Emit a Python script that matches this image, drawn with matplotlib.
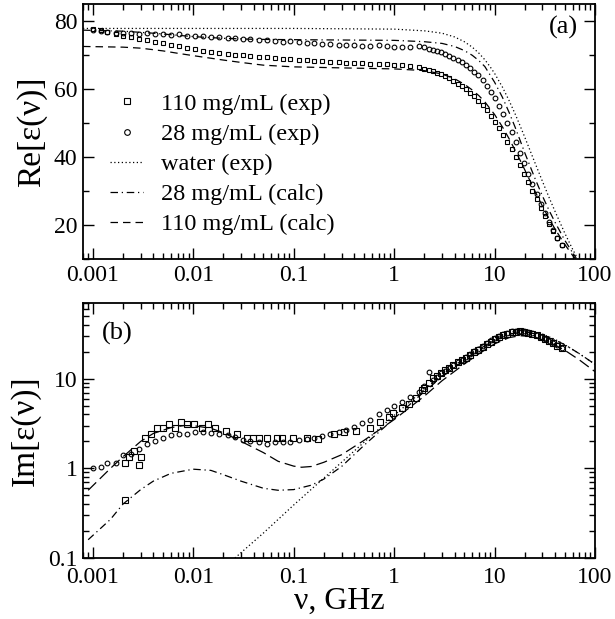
import numpy as np
import matplotlib
matplotlib.use("Agg")
import matplotlib.pyplot as plt
from matplotlib.ticker import LogLocator, MultipleLocator, FuncFormatter, NullFormatter

plt.rcParams.update({"font.family": ["Liberation Serif", "DejaVu Serif"],
                     "mathtext.fontset": "stix"})

# ---- experimental data (GHz) ----
# 28 mg/mL, low-frequency grid (Re and Im)
f28_lo = [0.0010, 0.0012, 0.0014, 0.0017, 0.0020, 0.0024, 0.0029, 0.0035, 0.0042, 0.0050,
          0.0060, 0.0072, 0.0087, 0.0105, 0.0126, 0.015, 0.018, 0.022, 0.026, 0.031,
          0.037, 0.045, 0.054, 0.065, 0.078, 0.093, 0.112, 0.135, 0.16, 0.19,
          0.23, 0.28, 0.33, 0.40, 0.48, 0.58, 0.70, 0.84, 1.0, 1.2, 1.45, 1.75]
re28_lo = [77.4, 77.0, 76.8, 76.6, 76.4, 76.5, 76.3, 76.6, 76.2, 76.3,
           76.0, 76.1, 75.7, 75.6, 75.5, 75.4, 75.2, 75.1, 75.0, 74.8,
           74.6, 74.5, 74.3, 74.2, 73.9, 74.0, 73.7, 73.5, 73.4, 73.3,
           73.1, 73.0, 72.9, 72.8, 72.6, 72.5, 72.9, 72.6, 72.4, 72.4, 72.3, 72.6]
im28_lo = [1.02, 1.03, 1.15, 1.15, 1.40, 1.45, 1.65, 1.85, 2.00, 2.20,
           2.35, 2.45, 2.45, 2.55, 2.55, 2.50, 2.40, 2.35, 2.25, 2.10,
           2.00, 1.95, 1.85, 1.95, 1.95, 1.95, 2.05, 2.15, 2.20, 2.30,
           2.45, 2.55, 2.70, 2.90, 3.20, 3.50, 4.00, 4.50, 5.00, 5.50, 6.30, 7.20]

# 110 mg/mL, low-frequency grid (Re)
f110_re_lo = f28_lo
re110_lo = [77.7, 77.2, 76.8, 76.2, 75.6, 75.2, 74.8, 74.3, 73.8, 73.4,
            72.9, 72.5, 72.1, 71.7, 71.3, 71.0, 70.6, 70.3, 70.1, 69.9,
            69.7, 69.5, 69.3, 69.1, 68.9, 68.7, 68.6, 68.4, 68.3, 68.1,
            68.0, 67.9, 67.7, 67.6, 67.5, 67.4, 67.3, 67.2, 67.0, 67.0, 66.8, 66.4]

# 110 mg/mL, low-frequency grid (Im)
f110_im_lo = [0.0021, 0.0021, 0.0023, 0.0026, 0.0029, 0.0030, 0.0033, 0.0038, 0.0044, 0.0050,
              0.0057, 0.0066, 0.0075, 0.0087, 0.0102, 0.0123, 0.014, 0.0165, 0.021, 0.027,
              0.034, 0.039, 0.045, 0.054, 0.068, 0.077, 0.099, 0.137, 0.176, 0.25,
              0.32, 0.42, 0.57, 0.72, 0.89, 0.98, 1.2, 1.4, 1.65, 1.9]
im110_lo = [1.14, 0.44, 1.33, 1.58, 1.10, 1.33, 2.20, 2.45, 2.85, 2.85,
            3.15, 2.85, 3.33, 3.15, 3.15, 2.85, 3.15, 2.85, 2.64, 2.45,
            2.20, 2.20, 2.20, 2.20, 2.20, 2.20, 2.20, 2.20, 2.15, 2.45,
            2.55, 2.60, 2.85, 3.26, 3.70, 4.20, 4.70, 5.20, 6.10, 7.40]

# high-frequency grid (both samples)
f_hi = [2.0, 2.2, 2.42, 2.66, 2.93, 3.22, 3.54, 3.9, 4.29, 4.72,
        5.19, 5.7, 6.27, 6.9, 7.6, 8.35, 9.2, 10.1, 11.1, 12.2,
        13.4, 14.8, 16.3, 17.9, 19.7, 21.7, 23.8, 26.2, 28.8, 31.7,
        34.9, 38.4, 42.2, 46.4]
re28_hi = [72.2, 71.8, 71.5, 71.2, 70.8, 70.3, 69.8, 69.2, 68.5, 67.8,
           67.0, 66.1, 65.1, 64.0, 62.6, 61.0, 59.2, 57.2, 55.0, 52.6,
           50.0, 47.2, 44.3, 41.3, 38.2, 35.1, 32.1, 29.1, 26.3, 23.6,
           21.0, 18.6, 16.3, 14.2]
re110_hi = [66.0, 65.6, 65.2, 64.8, 64.3, 63.8, 63.1, 62.4, 61.6, 60.8,
            59.9, 58.9, 57.8, 56.6, 55.2, 53.7, 52.1, 50.4, 48.6, 46.6,
            44.5, 42.3, 40.0, 37.6, 35.1, 32.6, 30.1, 27.6, 25.1, 22.7,
            20.4, 18.2, 16.1, 14.1]
im28_hi = [8.2, 11.8, 9.6, 10.5, 11.5, 12.3, 13.2, 14.2, 15.2, 16.3,
           17.4, 18.8, 20.2, 21.7, 23.3, 25.0, 26.8, 28.5, 30.0, 31.5,
           32.8, 33.8, 34.3, 34.4, 34.1, 33.3, 32.3, 31.0, 29.6, 28.1,
           26.6, 25.0, 23.5, 22.0]
im110_hi = [7.8, 9.0, 10.2, 10.8, 11.6, 12.4, 13.3, 14.2, 15.2, 16.2,
            17.2, 18.4, 19.7, 21.1, 22.6, 24.2, 25.9, 27.6, 29.1, 30.6,
            31.9, 32.9, 33.5, 33.7, 33.4, 32.7, 31.8, 30.6, 29.3, 27.9,
            26.4, 24.9, 23.4, 21.9]

# ---- water (exp) and model curves ----
f_water_re = [0.0008, 0.01, 0.1, 1, 2, 3, 4, 5, 6, 7, 8, 9, 10, 12, 14, 16, 18, 20, 25, 30, 35, 40, 50, 60, 65]
re_water = [77.8, 77.8, 77.8, 77.6, 77.1, 76.4, 75.3, 73.9, 72.3, 70.5, 68.6, 66.6, 64.6, 60.5, 56.5,
            52.7, 49.1, 45.8, 38.6, 32.8, 28.0, 24.0, 17.6, 12.8, 10.9]
f_calc28_re = [0.0008, 0.002, 0.004, 0.007, 0.01, 0.02, 0.04, 0.1, 0.3, 1, 2, 3, 4, 5, 6, 7, 8,
               10, 12, 14, 16, 18, 20, 25, 30, 35, 40, 50, 60, 65]
re_calc28 = [77.3, 77.0, 76.4, 75.8, 75.4, 74.9, 74.6, 74.5, 74.4, 74.3, 73.9, 73.4, 72.5, 71.3,
             69.9, 68.3, 66.6, 62.0, 57.5, 53.0, 48.8, 44.8, 41.2, 34.0, 28.5, 24.2, 20.8, 15.5, 11.8, 10.3]
f_calc110_re = [0.0008, 0.002, 0.003, 0.005, 0.007, 0.01, 0.02, 0.03, 0.05, 0.1, 0.3, 1, 2, 3, 4, 5,
                6, 7, 8, 10, 12, 14, 16, 18, 20, 25, 30, 35, 40, 50, 60, 65]
re_calc110 = [72.5, 72.3, 72.0, 71.2, 70.5, 69.8, 68.5, 67.8, 67.0, 66.5, 66.2, 65.9, 65.4, 64.4,
              63.0, 61.4, 59.7, 58.0, 56.2, 52.5, 48.8, 45.3, 42.0, 39.0, 36.2, 30.2, 25.5, 21.8,
              18.8, 14.3, 11.0, 9.8]

f_water_im = [0.026, 0.05, 0.1, 0.2, 0.5, 1, 2, 3, 5, 7, 10, 14, 18, 22, 30, 40, 50, 70, 100]
im_water = [0.1, 0.19, 0.39, 0.78, 1.95, 3.9, 7.6, 11.0, 17.0, 22.5, 28.5, 33.0, 34.5, 34.0,
            31.5, 27.5, 24.0, 19.0, 14.5]
f_calc28_im = [0.0009, 0.0015, 0.002, 0.003, 0.004, 0.006, 0.01, 0.015, 0.02, 0.03, 0.05, 0.07,
               0.1, 0.15, 0.2, 0.3, 0.5, 1, 2, 3, 5, 7, 10, 14, 18, 22, 30, 40, 50, 70, 100]
im_calc28 = [0.16, 0.27, 0.40, 0.58, 0.72, 0.88, 0.98, 0.95, 0.85, 0.72, 0.60, 0.57, 0.58, 0.65,
             0.76, 1.05, 1.8, 3.6, 7.2, 10.5, 16.2, 21.3, 27.0, 31.5, 33.0, 32.7, 30.5, 27.0,
             24.0, 19.0, 14.5]
f_calc110_im = [0.0009, 0.0015, 0.002, 0.003, 0.004, 0.006, 0.008, 0.01, 0.015, 0.02, 0.03, 0.05,
                0.07, 0.1, 0.12, 0.15, 0.2, 0.3, 0.5, 1, 2, 3, 5, 7, 10, 14, 18, 22, 30, 40, 50, 70, 100]
im_calc110 = [0.57, 1.0, 1.35, 2.0, 2.45, 2.85, 3.0, 3.0, 2.8, 2.5, 2.0, 1.5, 1.2, 1.06, 1.03,
              1.05, 1.17, 1.42, 2.05, 3.5, 6.4, 9.5, 14.6, 19.0, 24.5, 28.8, 30.2, 29.8, 27.3,
              23.8, 20.8, 16.2, 12.0]

tick_fmt = FuncFormatter(lambda v, p: f"{v:g}")

fig = plt.figure(figsize=(6.15, 6.19), dpi=100)
ax1 = fig.add_axes([0.135, 0.5816, 0.8325, 0.412])
ax2 = fig.add_axes([0.135, 0.0985, 0.8325, 0.412])

sq_kw = dict(ls="none", marker="s", mfc="none", mec="black", mew=0.8)
ci_kw = dict(ls="none", marker="o", mfc="none", mec="black", mew=0.8)
lw = 0.9

# (a) real part
ax1.plot(f110_re_lo + f_hi, re110_lo + re110_hi, ms=3.2, label="110 mg/mL (exp)", **sq_kw)
ax1.plot(f28_lo + f_hi, re28_lo + re28_hi, ms=3.4, label="28 mg/mL (exp)", **ci_kw)
ax1.plot(f_water_re, re_water, color="black", lw=lw, ls=(0, (1, 2)), label="water (exp)")
ax1.plot(f_calc28_re, re_calc28, color="black", lw=lw, ls=(0, (6, 3, 1, 3)), label="28 mg/mL (calc)")
ax1.plot(f_calc110_re, re_calc110, color="black", lw=lw, ls=(0, (6, 4)), label="110 mg/mL (calc)")
ax1.set_xscale("log")
ax1.set_xlim(0.0008, 100)
ax1.set_ylim(10, 85)
ax1.yaxis.set_major_locator(MultipleLocator(20))
ax1.yaxis.set_minor_locator(MultipleLocator(10))
ax1.set_ylabel("Re[ε(ν)]", fontsize=24, labelpad=5)
ax1.text(0.9375, 0.906, "(a)", transform=ax1.transAxes, fontsize=19, ha="center", va="center")
ax1.legend(loc="upper left", bbox_to_anchor=(0.053, 0.651), frameon=False, fontsize=17.5,
           handlelength=1.36, handletextpad=0.75, labelspacing=0.33, borderpad=0, borderaxespad=0,
           markerscale=1.2)

# (b) imaginary part
ax2.plot(f110_im_lo + f_hi, im110_lo + im110_hi, ms=4.6, **sq_kw)
ax2.plot(f28_lo + f_hi, im28_lo + im28_hi, ms=3.4, **ci_kw)
ax2.plot(f_water_im, im_water, color="black", lw=lw, ls=(0, (1, 2)))
ax2.plot(f_calc28_im, im_calc28, color="black", lw=lw, ls=(0, (6, 3, 1, 3)))
ax2.plot(f_calc110_im, im_calc110, color="black", lw=lw, ls=(0, (9, 4)))
ax2.set_xscale("log")
ax2.set_yscale("log")
ax2.set_xlim(0.0008, 100)
ax2.set_ylim(0.1, 70)
ax2.set_ylabel("Im[ε(ν)]", fontsize=24, labelpad=5)
ax2.set_xlabel("ν, GHz", fontsize=23, labelpad=-1)
ax2.text(0.037, 0.88, "(b)", transform=ax2.transAxes, fontsize=19, ha="left", va="center")

for ax in (ax1, ax2):
    ax.xaxis.set_major_locator(LogLocator(base=10, numticks=12))
    ax.xaxis.set_minor_locator(LogLocator(base=10, subs=np.arange(2, 10), numticks=12))
    ax.xaxis.set_major_formatter(tick_fmt)
    ax.xaxis.set_minor_formatter(NullFormatter())
    ax.tick_params(which="both", direction="in", top=True, right=True, labelsize=17, width=1.0)
    ax.tick_params(which="major", length=8, pad=4)
    ax.tick_params(which="minor", length=4)
    for s in ax.spines.values():
        s.set_linewidth(1.3)
ax2.tick_params(axis="x", which="major", pad=6.5)
ax2.yaxis.set_major_locator(LogLocator(base=10, numticks=12))
ax2.yaxis.set_minor_locator(LogLocator(base=10, subs=np.arange(2, 10), numticks=12))
ax2.yaxis.set_major_formatter(tick_fmt)
ax2.yaxis.set_minor_formatter(NullFormatter())

fig.savefig("out.png", dpi=100)
